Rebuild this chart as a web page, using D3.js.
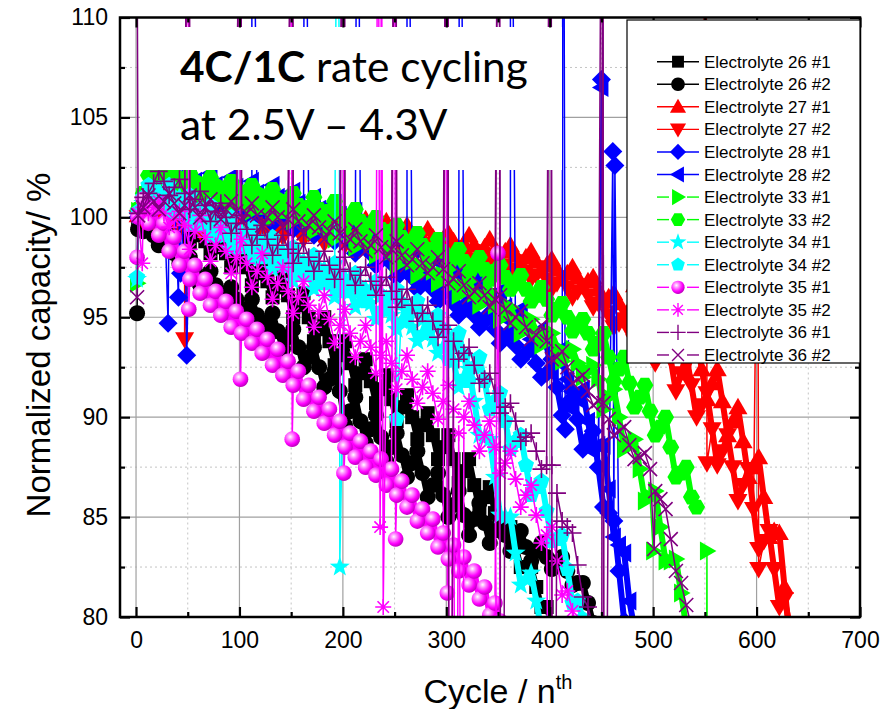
<!DOCTYPE html>
<html>
<head>
<meta charset="utf-8">
<script src="https://cdn.jsdelivr.net/npm/d3@7"></script>
<style>
  body { margin: 0; background: #fff; }
  text { font-family: "Liberation Sans", Arial, sans-serif; }
</style>
</head>
<body>
<div id="chart"></div>
<script>
// readings every 5 cycles starting at cycle 2; outliers kept separately as [cycle, value]
var FIRST = 2, STEP = 5;

var xTicks = [0, 100, 200, 300, 400, 500, 600, 700];
var xMinor = [50, 150, 250, 350, 450, 550, 650];
var yTicks = [80, 85, 90, 95, 100, 105, 110];
var yMinor = [82.5, 87.5, 92.5, 97.5, 102.5, 107.5];

var names = ["Electrolyte 26 #1", "Electrolyte 26 #2", "Electrolyte 27 #1", "Electrolyte 27 #2",
  "Electrolyte 28 #1", "Electrolyte 28 #2", "Electrolyte 33 #1", "Electrolyte 33 #2",
  "Electrolyte 34 #1", "Electrolyte 34 #2", "Electrolyte 35 #1", "Electrolyte 35 #2",
  "Electrolyte 36 #1", "Electrolyte 36 #2"];

var e26_1 = [99.6, 99.7, 99.4, 99.6, 99.9, 99.5, 99.2, 99.4, 99.7, 99.3,
  98.7, 99.1, 99.5, 98.8, 98.2, 98.5, 98.9, 98.2, 97.5, 97.9,
  98.4, 97.5, 96.6, 97.2, 97.7, 96.8, 96.0, 96.5, 97.0, 96.1,
  95.0, 95.6, 96.2, 95.0, 93.8, 94.4, 95.0, 93.8, 92.6, 93.1,
  93.8, 92.7, 91.6, 92.2, 92.9, 91.8, 90.7, 91.4, 92.1, 90.9,
  89.8, 90.5, 91.1, 90.0, 88.9, 89.6, 90.2, 89.1, 87.9, 88.5,
  89.1, 87.9, 86.7, 87.3, 87.9, 86.6, 85.4, 86.0, 86.5, 85.2,
  84.3, 84.4, 84.5, 83.5, 82.5, 82.5, 82.5, 81.5, 80.5, 80.5,
  79.6];
var out26_1 = [];

var e26_2 = [99.4, 99.3, 99.5, 99.1, 98.6, 98.6, 98.7, 98.2, 97.7, 97.8,
  98.0, 97.3, 96.6, 96.9, 97.3, 96.6, 95.9, 96.2, 96.5, 95.9,
  94.9, 95.4, 95.9, 95.1, 94.2, 94.7, 95.2, 94.3, 93.4, 94.0,
  94.4, 93.5, 92.5, 93.0, 93.5, 92.5, 91.5, 91.9, 92.3, 91.3,
  89.6, 90.3, 91.0, 89.8, 88.7, 89.4, 90.1, 89.0, 87.8, 88.5,
  89.2, 88.1, 87.0, 87.7, 88.3, 87.2, 86.0, 86.6, 87.2, 86.1,
  85.0, 85.6, 86.3, 85.1, 84.1, 84.9, 85.7, 84.7, 83.7, 84.4,
  84.8, 84.1, 83.3, 83.8, 84.3, 83.5, 82.8, 83.3, 83.7, 83.0,
  82.4, 82.7, 83.0, 82.3, 81.6, 81.7, 81.7, 80.7, 79.7, 79.6];
var out26_2 = [[1, 95.2]];

var e27_1 = [100.1, 100.4, 100.1, 100.5, 100.9, 100.5, 100.1, 100.5, 100.9, 100.5,
  100.1, 100.4, 100.8, 100.4, 100.0, 100.4, 100.7, 100.3, 99.9, 100.3,
  100.7, 100.2, 99.8, 100.2, 100.6, 100.1, 99.7, 100.1, 100.5, 100.1,
  99.6, 100.0, 100.4, 99.9, 99.5, 99.9, 100.2, 99.8, 99.4, 99.8,
  100.1, 99.7, 99.2, 99.6, 99.9, 99.5, 99.0, 99.4, 99.8, 99.3,
  98.9, 99.2, 99.6, 99.1, 98.7, 99.0, 99.4, 99.0, 98.5, 98.9,
  99.2, 98.8, 98.3, 98.7, 99.1, 98.6, 98.2, 98.5, 98.9, 98.4,
  97.9, 98.3, 98.6, 98.1, 97.7, 98.0, 98.3, 97.8, 97.3, 97.6,
  97.9, 97.4, 96.9, 97.2, 97.5, 97.0, 96.5, 96.8, 97.0, 96.4,
  95.8, 96.0, 96.2, 95.7, 95.1, 95.4, 96.6, 95.3, 94.0, 95.1,
  96.1, 94.7, 93.2, 94.2, 95.1, 93.6, 92.2, 93.1, 94.0, 92.4,
  90.9, 91.7, 92.4, 90.8, 89.1, 89.8, 90.5, 88.8, 87.0, 87.5,
  88.0, 86.0, 84.0, 84.3, 84.2, 81.5, 79.0, 79.2];
var out27_1 = [];

var e27_2 = [100.0, 99.8, 100.2, 99.8, 99.4, 99.8, 100.2, 99.8, 99.4, 99.8,
  100.2, 99.7, 99.3, 99.7, 100.1, 99.7, 99.2, 99.6, 100.0, 99.6,
  99.2, 99.5, 99.9, 99.5, 99.1, 99.4, 99.8, 99.4, 99.0, 99.4,
  99.7, 99.3, 98.9, 99.2, 99.6, 99.2, 98.7, 99.1, 99.5, 99.0,
  98.6, 99.0, 99.3, 98.9, 98.4, 98.8, 99.2, 98.7, 98.3, 98.6,
  99.0, 98.5, 98.1, 98.4, 98.8, 98.3, 97.9, 98.3, 98.7, 98.2,
  97.8, 98.1, 98.5, 98.0, 97.6, 97.9, 98.3, 97.8, 97.4, 97.7,
  98.1, 97.6, 97.1, 97.4, 97.8, 97.3, 96.9, 97.1, 97.5, 96.9,
  96.4, 96.7, 97.0, 96.5, 96.0, 96.3, 96.6, 96.1, 95.5, 95.7,
  95.8, 95.1, 94.5, 94.7, 94.9, 94.3, 93.8, 94.7, 95.6, 94.2,
  92.7, 93.6, 94.4, 92.9, 91.3, 92.2, 93.1, 91.6, 90.0, 90.6,
  91.2, 89.4, 87.6, 88.3, 89.1, 87.5, 85.8, 86.6, 87.4, 85.4,
  83.4, 83.8, 84.3, 82.4, 80.5, 80.9, 79.6];
var out27_2 = [[47, 93.9], [501, 104.5], [551, 125], [552, 87.7], [601, 104], [602, 82.4]];

var e28_1 = [100.0, 100.6, 100.7, 101.3, 101.8, 101.3, 100.8, 101.2, 101.7, 101.1,
  100.5, 101.0, 101.4, 100.8, 100.3, 100.7, 101.2, 100.6, 100.1, 100.5,
  101.0, 100.4, 99.9, 100.3, 100.8, 100.2, 99.7, 100.1, 100.5, 100.0,
  99.4, 99.8, 100.2, 99.6, 99.1, 99.5, 99.9, 99.3, 98.8, 99.1,
  99.5, 98.8, 98.2, 98.5, 98.9, 98.2, 97.6, 97.9, 98.4, 97.7,
  97.0, 97.3, 97.7, 97.0, 96.4, 96.7, 97.1, 96.4, 95.8, 96.2,
  96.4, 95.7, 95.1, 95.4, 95.8, 95.1, 94.5, 94.8, 95.2, 94.4,
  93.7, 94.0, 94.3, 93.6, 92.9, 93.2, 93.5, 92.7, 92.0, 92.2,
  92.9, 91.5, 90.1, 90.7, 91.3, 89.9, 88.4, 88.9, 89.3, 87.5,
  85.5, 85.2, 84.8, 82.3, 79.8, 79.3];
var out28_1 = [[31, 94.7], [41, 96.0], [43, 97.2], [49, 93.1], [112, 130], [163, 130],
  [214, 130], [262, 130], [313, 130], [362, 130], [413, 130], [415, 89.4],
  [450, 106.9], [461, 103.3], [463, 102.6]];

var e28_2 = [100.2, 100.7, 101.5, 101.6, 101.5, 101.9, 102.3, 101.9, 101.4, 101.9,
  102.3, 101.8, 101.3, 101.7, 102.2, 101.6, 101.1, 101.5, 102.0, 101.5,
  100.9, 101.3, 101.8, 101.2, 100.7, 101.1, 101.6, 101.0, 100.5, 100.9,
  101.3, 100.7, 100.1, 100.5, 101.0, 100.4, 99.8, 100.2, 100.7, 100.1,
  99.5, 99.8, 100.3, 99.6, 99.0, 99.4, 99.8, 99.2, 98.6, 99.0,
  99.3, 98.7, 98.1, 98.4, 98.8, 98.2, 97.6, 97.9, 98.3, 97.7,
  97.0, 97.3, 97.7, 97.0, 96.4, 96.7, 97.1, 96.4, 95.8, 96.1,
  96.3, 95.5, 94.8, 95.1, 95.4, 94.6, 93.9, 94.1, 94.4, 93.6,
  92.2, 92.8, 93.4, 91.9, 90.4, 90.9, 91.4, 89.8, 88.3, 88.6,
  88.6, 86.4, 84.0, 83.6, 83.2, 80.8, 79.4];
var out28_2 = [[450, 106.5]];

var e33_1 = [100.3, 101.0, 101.3, 101.8, 102.2, 101.7, 101.2, 101.6, 102.1, 101.5,
  101.0, 101.4, 101.8, 101.3, 100.7, 101.2, 101.6, 101.1, 100.5, 101.0,
  101.4, 100.9, 100.3, 100.7, 101.2, 100.6, 100.0, 100.5, 100.9, 100.4,
  99.8, 100.1, 100.5, 99.9, 99.3, 99.7, 100.1, 99.5, 98.9, 99.4,
  99.8, 99.1, 98.5, 98.9, 99.3, 98.7, 98.1, 98.5, 98.9, 98.3,
  97.6, 98.0, 98.4, 97.8, 97.1, 97.5, 97.9, 97.3, 96.7, 97.1,
  97.4, 96.7, 96.1, 96.5, 96.8, 96.2, 95.6, 96.0, 96.3, 95.6,
  94.9, 95.2, 95.5, 94.9, 94.2, 94.6, 94.9, 94.3, 93.6, 94.0,
  94.2, 93.5, 92.8, 93.1, 93.4, 92.7, 92.0, 92.3, 92.6, 91.9,
  90.4, 91.0, 91.4, 90.0, 88.4, 88.7, 88.9, 87.4, 85.8, 86.0,
  86.3, 84.5, 82.8, 82.8, 82.9, 81.2, 79.5, 79.5];
var out33_1 = [[1, 96.7], [500, 83.3], [551, 60], [552, 83.3], [553, 60]];

var e33_2 = [100.4, 101.2, 102.1, 102.1, 101.6, 102.0, 102.3, 101.9, 101.4, 101.8,
  102.2, 101.6, 101.1, 101.5, 102.0, 101.4, 100.9, 101.3, 101.8, 101.3,
  100.7, 101.1, 101.6, 101.0, 100.5, 100.9, 101.4, 100.8, 100.3, 100.8,
  101.2, 100.6, 100.1, 100.5, 101.0, 100.4, 99.9, 100.3, 100.8, 100.2,
  99.6, 100.0, 100.4, 99.8, 99.2, 99.6, 100.0, 99.4, 98.9, 99.3,
  99.6, 99.0, 98.4, 98.8, 99.2, 98.6, 98.0, 98.4, 98.9, 98.3,
  97.6, 98.0, 98.4, 97.8, 97.2, 97.6, 98.0, 97.4, 96.9, 97.3,
  97.6, 97.0, 96.4, 96.7, 97.1, 96.4, 95.8, 96.1, 96.5, 95.9,
  95.1, 95.4, 95.7, 95.0, 94.3, 94.6, 94.9, 94.2, 93.4, 93.7,
  94.2, 93.0, 91.8, 92.4, 93.0, 91.7, 90.5, 91.0, 91.6, 90.3,
  89.1, 89.5, 90.0, 88.5, 87.0, 87.2, 87.5, 86.0, 85.5];
var out33_2 = [];

var e34_1 = [100.1, 100.7, 100.6, 100.9, 101.4, 100.8, 100.2, 100.6, 101.0, 100.3,
  99.6, 100.0, 100.5, 99.8, 99.0, 99.4, 99.9, 99.1, 98.4, 98.8,
  99.3, 98.6, 97.9, 98.3, 98.8, 98.1, 97.4, 97.8, 98.3, 97.5,
  96.8, 97.3, 97.8, 97.1, 96.4, 96.9, 97.4, 96.7, 96.0, 96.5,
  97.0, 96.3, 95.5, 96.0, 96.4, 95.7, 94.9, 95.4, 95.9, 95.1,
  94.4, 94.8, 95.3, 94.5, 93.8, 94.2, 94.7, 93.9, 93.2, 93.5,
  94.1, 92.8, 91.5, 92.0, 92.4, 90.8, 89.1, 89.0, 88.9, 87.0,
  85.1, 85.0, 85.0, 83.2, 81.6, 81.9, 82.2, 80.8, 79.3, 79.6];
var out34_1 = [[1, 96.9], [195, 130], [197, 82.5]];

var e34_2 = [100.3, 101.0, 101.6, 101.3, 100.8, 101.2, 101.6, 101.0, 100.3, 100.7,
  101.1, 100.4, 99.6, 100.1, 100.6, 99.8, 99.1, 99.6, 100.0, 99.3,
  98.5, 99.0, 99.5, 98.8, 98.0, 98.5, 99.0, 98.3, 97.6, 98.1,
  98.5, 97.8, 97.1, 97.6, 98.1, 97.4, 96.7, 97.2, 97.7, 97.0,
  96.3, 96.8, 97.2, 96.5, 95.8, 96.3, 96.8, 96.1, 95.4, 96.0,
  96.4, 95.7, 94.9, 95.4, 95.8, 95.0, 94.2, 94.6, 95.1, 94.4,
  92.9, 93.6, 94.2, 93.1, 91.8, 92.5, 93.0, 91.8, 90.4, 90.8,
  91.2, 89.8, 88.4, 88.8, 89.1, 87.6, 86.1, 86.5, 86.8, 85.3,
  83.8, 83.9, 84.1, 82.4, 80.7, 80.8, 79.9];
var out34_2 = [[1, 97.0], [252, 89.9]];

var e35_1 = [100.0, 100.9, 99.7, 100.4, 99.1, 99.7, 98.3, 99.0, 97.6, 98.3,
  96.9, 97.6, 96.2, 96.9, 95.6, 96.3, 95.1, 95.8, 94.5, 95.3,
  94.2, 94.9, 93.7, 94.4, 93.2, 93.9, 92.6, 93.4, 92.1, 92.8,
  91.6, 92.3, 90.9, 91.6, 90.3, 91.0, 89.7, 90.4, 89.1, 89.8,
  88.5, 89.2, 88.0, 88.8, 87.5, 88.3, 87.1, 87.9, 86.6, 87.4,
  86.1, 86.8, 85.5, 86.1, 84.8, 85.4, 84.2, 84.9, 83.5, 84.2,
  82.9, 83.6, 82.3, 83.0, 81.6, 82.3, 80.9, 81.5, 80.1, 80.7,
  79.8];
var out35_1 = [[1, 98.0], [50, 125], [51, 95.4], [100, 125], [101, 91.9], [150, 125], [151, 88.9],
  [200, 125], [201, 87.2], [250, 125], [251, 83.9], [300, 125], [301, 81.2], [350, 98.2]];

var e35_2 = [100.2, 100.5, 100.2, 100.5, 100.8, 100.2, 99.5, 99.9, 100.3, 99.6,
  98.4, 99.3, 100.1, 99.0, 97.8, 98.6, 99.5, 98.3, 97.2, 98.0,
  98.9, 97.7, 96.5, 97.3, 98.2, 97.0, 95.9, 96.7, 97.5, 96.3,
  95.2, 96.0, 96.8, 95.6, 94.5, 95.3, 96.1, 94.9, 93.7, 94.6,
  95.4, 94.2, 93.0, 93.8, 94.6, 93.5, 92.2, 93.1, 93.8, 92.7,
  91.4, 92.3, 93.1, 91.9, 90.7, 91.5, 92.3, 91.2, 89.9, 90.8,
  91.6, 90.4, 89.2, 90.0, 90.8, 89.6, 88.3, 89.1, 89.8, 88.5,
  87.2, 87.7, 88.3, 86.9, 85.5, 86.1, 86.6, 85.1, 83.7, 84.1,
  84.5, 82.8, 81.1, 81.3, 80.3, 79.4];
var out35_2 = [[6, 97.7], [234, 125], [236, 84.5], [237, 125], [239, 80.5], [301, 130], [303, 60],
  [309, 60], [316, 60], [351, 60], [401, 60]];

var e36_1 = [100.2, 101.0, 101.2, 101.7, 102.3, 101.8, 101.1, 101.5, 101.9, 101.2,
  100.4, 100.9, 101.3, 100.6, 99.8, 100.3, 100.7, 100.0, 99.2, 99.7,
  100.1, 99.4, 98.6, 99.1, 99.6, 98.9, 98.1, 98.6, 99.1, 98.4,
  97.7, 98.2, 98.7, 98.0, 97.3, 97.8, 98.3, 97.6, 96.9, 97.4,
  98.0, 97.3, 96.6, 97.1, 97.5, 96.8, 96.1, 96.6, 97.0, 96.3,
  95.5, 95.9, 96.4, 95.6, 94.8, 95.2, 95.6, 94.8, 94.0, 94.4,
  94.6, 93.8, 92.9, 93.2, 93.5, 92.6, 91.7, 91.9, 92.2, 91.2,
  90.2, 90.5, 90.7, 89.8, 88.8, 89.0, 89.2, 88.3, 87.4, 87.6,
  87.6, 86.2, 84.8, 84.5, 84.2, 82.6, 81.0, 80.5, 79.5];
var out36_1 = [[0, 130], [51, 130], [101, 130], [151, 130], [201, 130], [251, 130], [301, 130],
  [303, 50], [351, 130], [353, 50], [401, 130], [403, 50], [450, 50], [451, 130], [453, 50]];

var e36_2 = [100.1, 100.5, 101.1, 100.8, 100.4, 100.8, 101.2, 100.7, 100.2, 100.6,
  101.1, 100.5, 100.0, 100.5, 100.9, 100.4, 99.9, 100.4, 100.8, 100.3,
  99.8, 100.2, 100.7, 100.1, 99.6, 100.0, 100.5, 100.0, 99.5, 99.9,
  100.4, 99.8, 99.2, 99.6, 100.1, 99.5, 98.9, 99.3, 99.8, 99.2,
  98.6, 98.9, 99.4, 98.8, 98.3, 98.6, 99.1, 98.5, 98.0, 98.4,
  98.8, 98.1, 97.6, 97.9, 98.4, 97.7, 97.2, 97.5, 98.0, 97.4,
  96.7, 96.9, 97.3, 96.6, 96.0, 96.3, 96.7, 96.1, 95.5, 95.9,
  96.1, 95.4, 94.7, 95.0, 95.3, 94.5, 93.9, 94.1, 94.6, 93.8,
  92.9, 93.0, 93.3, 92.5, 91.7, 91.9, 92.1, 91.3, 90.6, 90.8,
  90.7, 89.9, 89.1, 89.3, 89.5, 88.6, 87.9, 88.0, 88.2, 87.4,
  86.3, 85.9, 85.4, 83.9, 82.3, 81.7, 80.6, 79.5];
var out36_2 = [[1, 96.0], [51, 130], [101, 130], [151, 130], [201, 130], [251, 130], [301, 130],
  [351, 130], [401, 130], [451, 130], [452, 50], [501, 83.4]];

var colors = ["#000000", "#000000", "#ff0000", "#ff0000", "#0000ff", "#0000ff", "#00ff00", "#00ff00",
  "#00ffff", "#00ffff", "#ff00ff", "#ff00ff", "#800080", "#800080"];
var shapes = ["square", "circle", "triUp", "triDown", "diamond", "triLeft", "triRight", "hexagon",
  "star", "pentagon", "sphere", "asterisk", "plus", "cross"];
var bases = [e26_1, e26_2, e27_1, e27_2, e28_1, e28_2, e33_1, e33_2, e34_1, e34_2, e35_1, e35_2, e36_1, e36_2];
var outs = [out26_1, out26_2, out27_1, out27_2, out28_1, out28_2, out33_1, out33_2, out34_1, out34_2,
  out35_1, out35_2, out36_1, out36_2];

var width = 884, height = 709;
var margin = {left: 120, right: 24, top: 17.5, bottom: 92};

var svg = d3.select("#chart").append("svg")
  .attr("width", width).attr("height", height);

var x = d3.scaleLinear().domain([-15.5, 700]).range([margin.left, width - margin.right]);
var y = d3.scaleLinear().domain([80, 110]).range([height - margin.bottom, margin.top]);
var x0 = x.range()[0], x1 = x.range()[1], y0 = y.range()[1], y1 = y.range()[0];

var defs = svg.append("defs");
defs.append("clipPath").attr("id", "plotclip").append("rect")
  .attr("x", x0).attr("y", y0).attr("width", x1 - x0).attr("height", y1 - y0);
var grad = defs.append("radialGradient").attr("id", "ball")
  .attr("cx", "38%").attr("cy", "35%").attr("r", "65%");
grad.append("stop").attr("offset", "0%").attr("stop-color", "#ffffff");
grad.append("stop").attr("offset", "30%").attr("stop-color", "#ff8cff");
grad.append("stop").attr("offset", "70%").attr("stop-color", "#ff00ff");
grad.append("stop").attr("offset", "100%").attr("stop-color", "#c000c0");

function poly(n, r, rot) {
  var p = [];
  for (var i = 0; i < n; i++) {
    var a = rot + i * 2 * Math.PI / n;
    p.push([r * Math.cos(a), r * Math.sin(a)]);
  }
  return "M" + p.map(function (q) { return q[0].toFixed(2) + "," + q[1].toFixed(2); }).join("L") + "Z";
}
function starPath(R, r) {
  var p = [];
  for (var i = 0; i < 10; i++) {
    var a = -Math.PI / 2 + i * Math.PI / 5, rr = i % 2 ? r : R;
    p.push([rr * Math.cos(a), rr * Math.sin(a)]);
  }
  return "M" + p.map(function (q) { return q[0].toFixed(2) + "," + q[1].toFixed(2); }).join("L") + "Z";
}
function markerPath(t) {
  switch (t) {
    case "square": return "M-7,-7H7V7H-7Z";
    case "circle": return poly(24, 8, 0);
    case "triUp": return "M0,-9.5L9.5,7H-9.5Z";
    case "triDown": return "M0,9.5L9.5,-7H-9.5Z";
    case "diamond": return "M0,-9.5L9.5,0L0,9.5L-9.5,0Z";
    case "triLeft": return "M-9.5,0L7,-9.5V9.5Z";
    case "triRight": return "M9.5,0L-7,-9.5V9.5Z";
    case "hexagon": return poly(6, 8.5, 0);
    case "star": return starPath(10.5, 4.3);
    case "pentagon": return poly(5, 8.5, -Math.PI / 2);
    case "sphere": return poly(24, 7.8, 0);
    case "asterisk": return "M0,-8V8M-8,0H8M-5.7,-5.7L5.7,5.7M-5.7,5.7L5.7,-5.7";
    case "plus": return "M0,-9V9M-9,0H9";
    case "cross": return "M-7,-7L7,7M-7,7L7,-7";
  }
}
var stroked = {asterisk: true, plus: true, cross: true};
function styleMarker(sel, k) {
  var t = shapes[k];
  if (stroked[t]) {
    sel.attr("fill", "none").attr("stroke", colors[k]).attr("stroke-width", 1.6);
  } else {
    sel.attr("fill", t === "sphere" ? "url(#ball)" : colors[k]).attr("stroke", "none");
  }
}

// grid
var grid = svg.append("g");
grid.selectAll(".gxm").data(xMinor).join("line")
  .attr("x1", d => x(d)).attr("x2", d => x(d)).attr("y1", y0).attr("y2", y1)
  .attr("stroke", "#c4c4c4").attr("stroke-width", 1).attr("stroke-dasharray", "2,3");
grid.selectAll(".gym").data(yMinor).join("line")
  .attr("x1", x0).attr("x2", x1).attr("y1", d => y(d)).attr("y2", d => y(d))
  .attr("stroke", "#c4c4c4").attr("stroke-width", 1).attr("stroke-dasharray", "2,3");
grid.selectAll(".gx").data(xTicks).join("line")
  .attr("x1", d => x(d)).attr("x2", d => x(d)).attr("y1", y0).attr("y2", y1)
  .attr("stroke", "#a0a0a0").attr("stroke-width", 1.2);
grid.selectAll(".gy").data(yTicks.slice(1, -1)).join("line")
  .attr("x1", x0).attr("x2", x1).attr("y1", d => y(d)).attr("y2", d => y(d))
  .attr("stroke", "#a0a0a0").attr("stroke-width", 1.2);

// data
var plot = svg.append("g").attr("clip-path", "url(#plotclip)");
var line = d3.line().x(d => x(d.c)).y(d => y(d.v));

bases.forEach(function (base, k) {
  var core = base.map(function (v, i) { return {c: FIRST + STEP * i, v: v}; });
  var pts = core.slice();
  outs[k].forEach(function (p) { pts.push({c: p[0], v: p[1]}); });
  pts.sort(function (a, b) { return a.c - b.c; });

  var g = plot.append("g");
  // filled-symbol series read as a solid band: heavy trace of the regular readings under the markers
  if (!stroked[shapes[k]]) {
    g.append("path").datum(core).attr("d", line)
      .attr("fill", "none").attr("stroke", colors[k]).attr("stroke-linejoin", "round")
      .attr("stroke-width", 6);
  }
  g.append("path").datum(pts).attr("d", line)
    .attr("fill", "none").attr("stroke", colors[k]).attr("stroke-width", 1.5);
  g.selectAll("path.m").data(pts).join("path").attr("class", "m")
    .attr("d", markerPath(shapes[k]))
    .attr("transform", d => "translate(" + x(d.c) + "," + y(d.v) + ")")
    .call(styleMarker, k);
});

// note box
svg.append("rect").attr("x", 140).attr("y", 27).attr("width", 422).attr("height", 143).attr("fill", "#fff");
var note1 = svg.append("text").attr("x", 180).attr("y", 82)
  .style("font-family", "Lato, 'Open Sans', sans-serif").style("font-size", "36px").attr("fill", "#000");
note1.append("tspan").attr("font-weight", "bold").text("4C/1C");
note1.append("tspan").text(" rate cycling");
var fs = 36 * 348 / note1.node().getComputedTextLength();
note1.style("font-size", fs + "px");
svg.append("text").attr("x", 180).attr("y", 140)
  .style("font-family", "Lato, 'Open Sans', sans-serif").style("font-size", fs + "px")
  .attr("fill", "#000").text("at 2.5V \u2013 4.3V");

// axes
var axes = svg.append("g");
var tickStyle = function (g) {
  g.select(".domain").remove();
  g.selectAll(".tick line").attr("stroke", "#000").attr("stroke-width", 2.2);
  g.selectAll(".tick text").style("font-family", "'Liberation Sans', Arial, sans-serif")
    .style("font-size", "23px").attr("fill", "#000");
};
axes.append("g").attr("transform", "translate(0," + y1 + ")")
  .call(d3.axisBottom(x).tickValues(xTicks).tickSize(-10).tickPadding(15).tickSizeOuter(0))
  .call(tickStyle);
axes.append("g").attr("transform", "translate(0," + y1 + ")")
  .call(d3.axisBottom(x).tickValues(xMinor).tickSize(-5).tickFormat("").tickSizeOuter(0))
  .call(tickStyle);
axes.append("g").attr("transform", "translate(0," + y0 + ")")
  .call(d3.axisTop(x).tickValues(xTicks).tickSize(-10).tickFormat("").tickSizeOuter(0))
  .call(tickStyle);
axes.append("g").attr("transform", "translate(0," + y0 + ")")
  .call(d3.axisTop(x).tickValues(xMinor).tickSize(-5).tickFormat("").tickSizeOuter(0))
  .call(tickStyle);
axes.append("g").attr("transform", "translate(" + x0 + ",0)")
  .call(d3.axisLeft(y).tickValues(yTicks).tickSize(-10).tickPadding(12).tickSizeOuter(0))
  .call(tickStyle);
axes.append("g").attr("transform", "translate(" + x0 + ",0)")
  .call(d3.axisLeft(y).tickValues(yMinor).tickSize(-5).tickFormat("").tickSizeOuter(0))
  .call(tickStyle);
axes.append("g").attr("transform", "translate(" + x1 + ",0)")
  .call(d3.axisRight(y).tickValues(yTicks).tickSize(-10).tickFormat("").tickSizeOuter(0))
  .call(tickStyle);
axes.append("g").attr("transform", "translate(" + x1 + ",0)")
  .call(d3.axisRight(y).tickValues(yMinor).tickSize(-5).tickFormat("").tickSizeOuter(0))
  .call(tickStyle);
axes.append("rect").attr("x", x0).attr("y", y0).attr("width", x1 - x0).attr("height", y1 - y0)
  .attr("fill", "none").attr("stroke", "#000").attr("stroke-width", 2.5);

// axis titles
var xt = svg.append("text").attr("x", 498).attr("y", 703).attr("text-anchor", "middle")
  .style("font-size", "34px").attr("fill", "#000");
xt.append("tspan").text("Cycle / n");
xt.append("tspan").attr("dy", -14).style("font-size", "20px").text("th");
svg.append("text").attr("transform", "translate(50,345) rotate(-90)").attr("text-anchor", "middle")
  .style("font-size", "33px").attr("fill", "#000").text("Normalized capacity/ %");

// legend
var leg = svg.append("g");
leg.append("rect").attr("x", 627).attr("y", 20).attr("width", 233).attr("height", 343)
  .attr("fill", "#fff").attr("stroke", "#000").attr("stroke-width", 1.2);
names.forEach(function (n, k) {
  var cy = 61.7 + 22.56 * k;
  var row = leg.append("g");
  if (k < 6) {
    row.append("line").attr("x1", 657).attr("x2", 699).attr("y1", cy).attr("y2", cy)
      .attr("stroke", colors[k]).attr("stroke-width", 1.4);
  } else {
    row.append("line").attr("x1", 657).attr("x2", 669).attr("y1", cy).attr("y2", cy)
      .attr("stroke", colors[k]).attr("stroke-width", 1.4);
    row.append("line").attr("x1", 687).attr("x2", 699).attr("y1", cy).attr("y2", cy)
      .attr("stroke", colors[k]).attr("stroke-width", 1.4);
  }
  row.append("path").attr("d", markerPath(shapes[k]))
    .attr("transform", "translate(678," + cy + ") scale(0.85)").call(styleMarker, k);
  row.append("text").attr("x", 704).attr("y", cy + 6).style("font-size", "17px")
    .attr("fill", "#000").text(n);
});
</script>
</body>
</html>
